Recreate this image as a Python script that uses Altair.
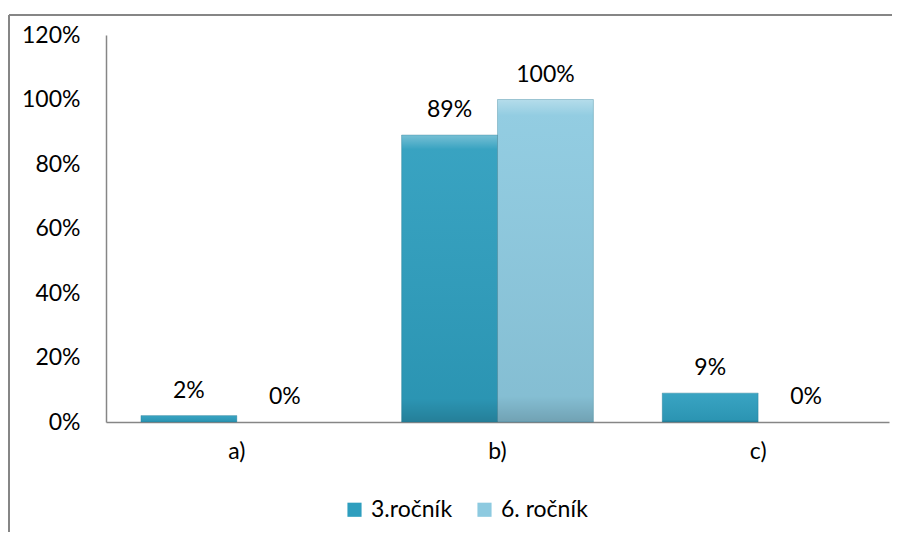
import altair as alt
import pandas as pd

categories = ["a)", "b)", "c)"]
series = ["3.ročník", "6. ročník"]
values_3 = [0.02, 0.89, 0.09]
values_6 = [0.00, 1.00, 0.00]
y_ticks = [0, 0.2, 0.4, 0.6, 0.8, 1.0, 1.2]
colors = ["#2E9EBE", "#8DCAE0"]

rows = []
for c, v3, v6 in zip(categories, values_3, values_6):
    rows.append({"cat": c, "series": series[0], "value": v3})
    rows.append({"cat": c, "series": series[1], "value": v6})
df = pd.DataFrame(rows)

FONT = "Lato"
FS = 23

x = alt.X("cat:N", sort=categories, title=None,
          scale=alt.Scale(paddingInner=0.264, paddingOuter=0.134),
          axis=alt.Axis(labelAngle=0, ticks=False, domainColor="#868686", domainWidth=1.5,
                        labelFont=FONT, labelFontSize=FS, labelColor="#000000", labelPadding=18))
xo = alt.XOffset("series:N", sort=series, scale=alt.Scale(paddingInner=0, paddingOuter=0))
y = alt.Y("value:Q", title=None,
          scale=alt.Scale(domain=[0, 1.2]),
          axis=alt.Axis(format=".0%", values=y_ticks, grid=False, ticks=False,
                        domainColor="#868686", domainWidth=1.5,
                        labelFont=FONT, labelFontSize=FS, labelColor="#000000", labelPadding=26))

base = alt.Chart(df)

bars = base.mark_bar().encode(
    x=x, xOffset=xo, y=y,
    color=alt.Color("series:N", sort=series, title=None,
                    scale=alt.Scale(domain=series, range=colors),
                    legend=alt.Legend(orient="none", direction="horizontal", legendX=237, legendY=463,
                                      symbolType="square", symbolSize=200, symbolStrokeWidth=0,
                                      labelFont=FONT, labelFontSize=FS, labelColor="#000000",
                                      labelOffset=5, columnPadding=20)),
)

shade = base.transform_filter("datum.value > 0").mark_bar(
    fill=alt.LinearGradient(gradient="linear", x1=0, y1=0, x2=0, y2=1,
                            stops=[alt.GradientStop(offset=0, color="rgba(255,255,255,0.35)"),
                                   alt.GradientStop(offset=0.05, color="rgba(255,255,255,0.05)"),
                                   alt.GradientStop(offset=0.92, color="rgba(0,0,0,0.06)"),
                                   alt.GradientStop(offset=1, color="rgba(0,0,0,0.2)")]),
    stroke="#1F6F86", strokeWidth=0.6, strokeOpacity=0.5,
).encode(x=x, xOffset=xo, y=y)

labels = base.mark_text(dy=-18, baseline="alphabetic", font=FONT, fontSize=FS, color="#000000").encode(
    x=x, xOffset=xo, y=y, text=alt.Text("value:Q", format=".0%"))

one = pd.DataFrame({"k": [0]})
border_left = alt.Chart(one).mark_rule(color="#868686", strokeWidth=2).encode(
    x=alt.value(-97), y=alt.value(-20), y2=alt.value(700))
border_top = alt.Chart(one).mark_rule(color="#868686", strokeWidth=2).encode(
    x=alt.value(-97), x2=alt.value(900), y=alt.value(-20))

chart = alt.layer(bars, shade, labels, border_left, border_top).properties(
    width=783, height=387,
    autosize=alt.AutoSizeParams(type="none"),
    padding={"left": 98, "top": 27, "right": 3, "bottom": 110},
).configure(background="white").configure_view(strokeWidth=0)

chart.save("out.html", embed_options={"renderer": "svg", "actions": False})
